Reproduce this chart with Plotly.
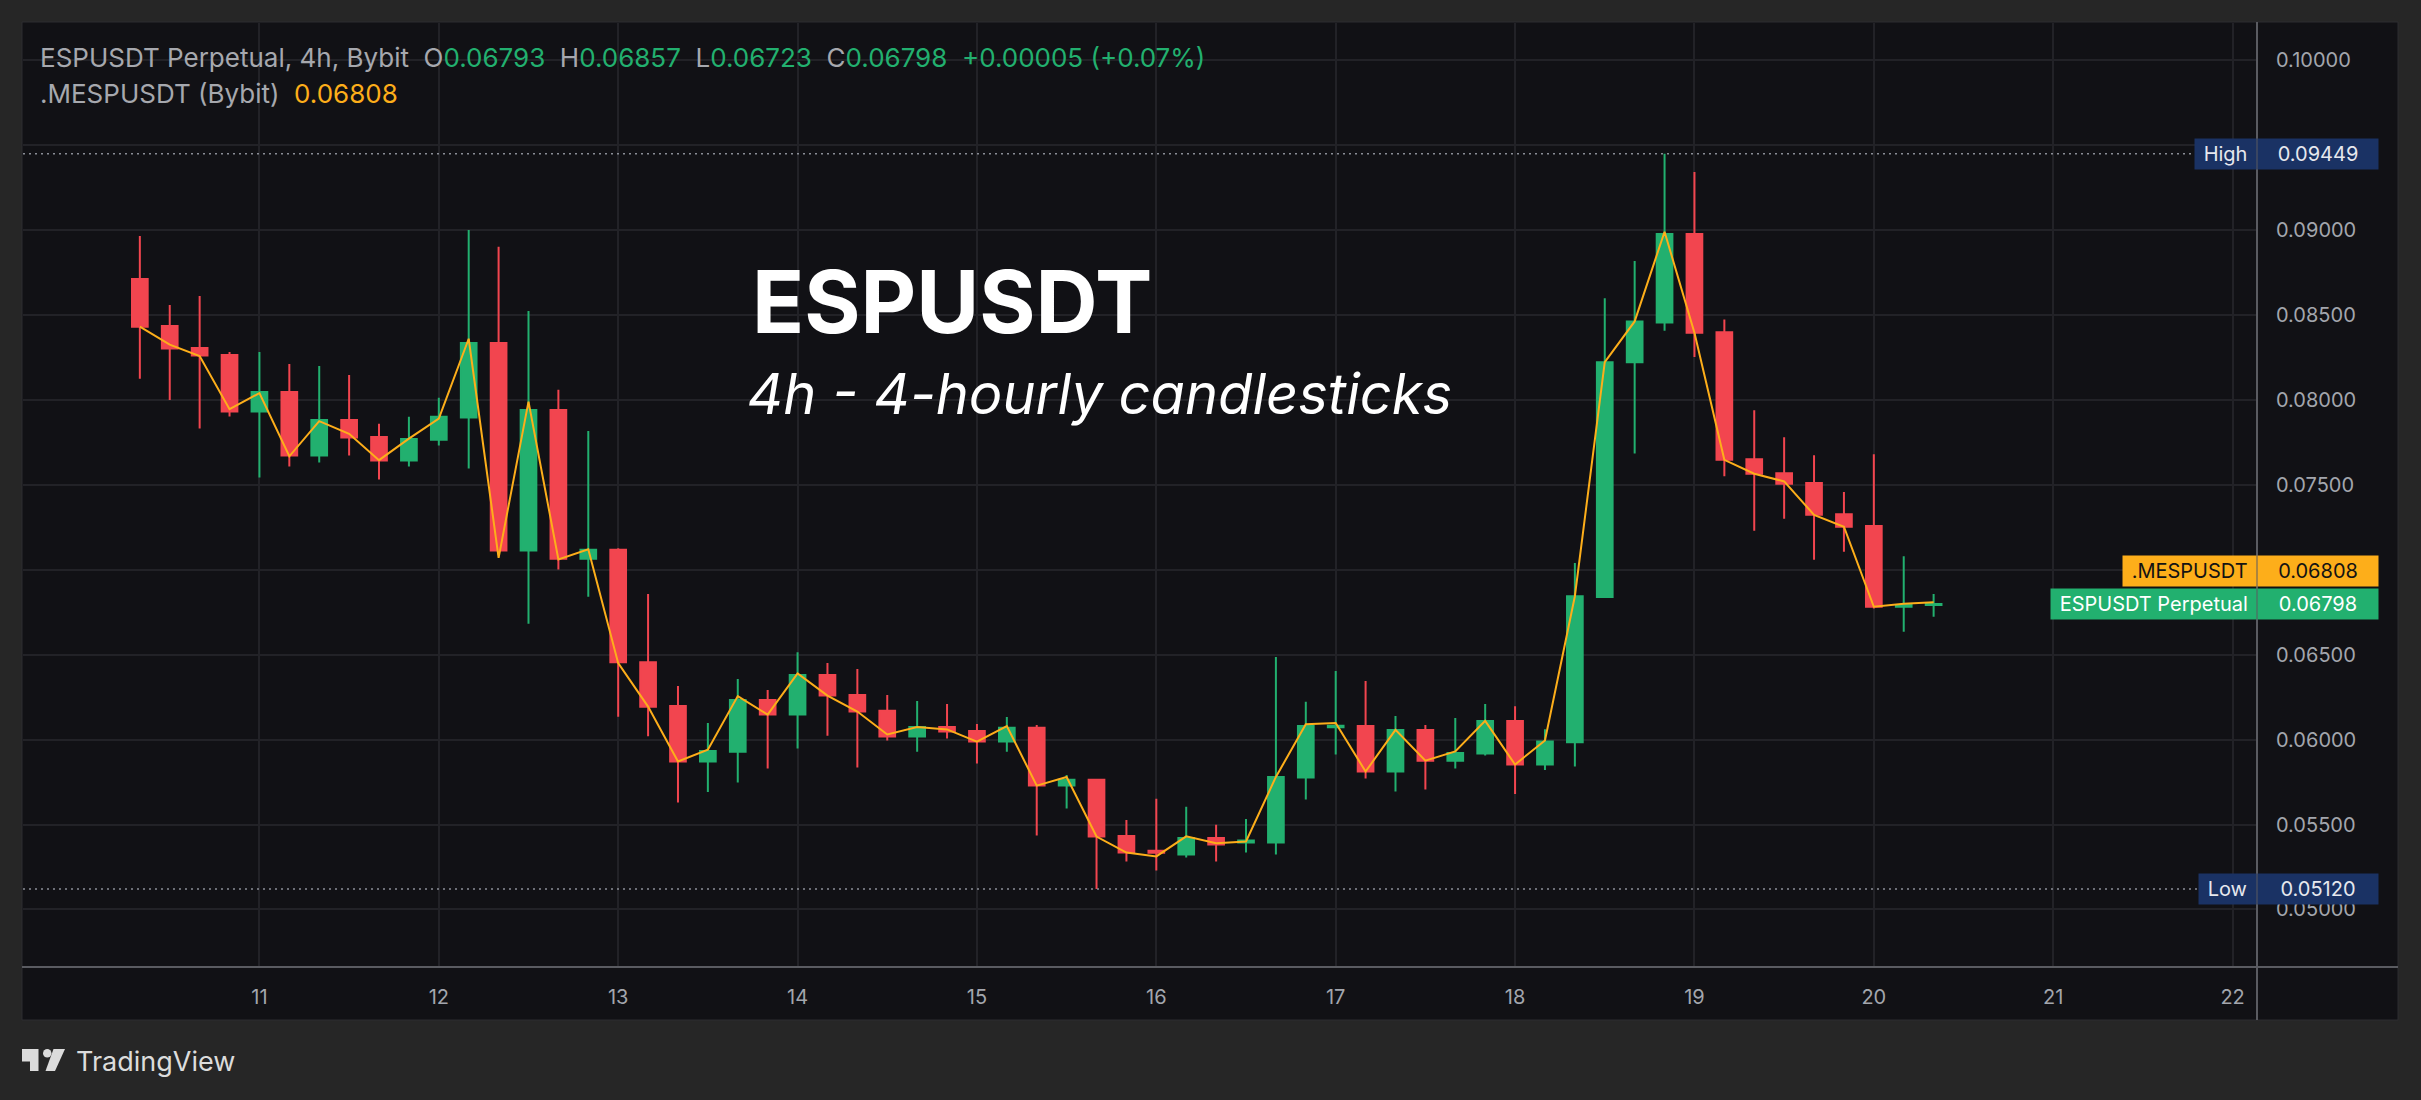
import pandas as pd
import plotly.graph_objects as go

# 4h candles, ESPUSDT perpetual (Bybit)
times = pd.date_range("2026-02-10 08:00", periods=61, freq="4h")

open_ = [0.08712, 0.08435, 0.08306, 0.08265, 0.07931, 0.08047, 0.07672, 0.07882, 0.07782, 0.07643,
         0.07766, 0.07896, 0.08335, 0.07113, 0.07941, 0.07064, 0.07117, 0.06455, 0.06198, 0.05871,
         0.05929, 0.06233, 0.06147, 0.06380, 0.06263, 0.06169, 0.06018, 0.06074, 0.06051, 0.05988,
         0.06069, 0.05729, 0.05763, 0.05433, 0.05345, 0.05323, 0.05421, 0.05394, 0.05394, 0.05776,
         0.06072, 0.06080, 0.05812, 0.06057, 0.05876, 0.05918, 0.06110, 0.05853, 0.05984, 0.06840,
         0.08222, 0.08455, 0.08976, 0.08398, 0.07651, 0.07568, 0.07510, 0.07327, 0.07257, 0.06782,
         0.06793]
high = [0.08965, 0.08559, 0.08612, 0.08282, 0.08282, 0.08212, 0.08200, 0.08147, 0.07859, 0.07900,
        0.08012, 0.09000, 0.08901, 0.08523, 0.08059, 0.07817, 0.07127, 0.06857, 0.06316, 0.06098,
        0.06357, 0.06292, 0.06514, 0.06451, 0.06416, 0.06263, 0.06227, 0.06210, 0.06092, 0.06133,
        0.06086, 0.05792, 0.05765, 0.05527, 0.05651, 0.05604, 0.05498, 0.05533, 0.06486, 0.06222,
        0.06404, 0.06345, 0.06139, 0.06086, 0.06127, 0.06210, 0.06196, 0.06061, 0.07040, 0.08599,
        0.08818, 0.09449, 0.09341, 0.08474, 0.07939, 0.07780, 0.07674, 0.07457, 0.07680, 0.07080,
        0.06857]
low = [0.08125, 0.08000, 0.07831, 0.07902, 0.07543, 0.07608, 0.07631, 0.07672, 0.07531, 0.07608,
       0.07731, 0.07596, 0.07088, 0.06682, 0.07002, 0.06841, 0.06135, 0.06019, 0.05629, 0.05692,
       0.05747, 0.05829, 0.05947, 0.06023, 0.05835, 0.05994, 0.05929, 0.06006, 0.05859, 0.05929,
       0.05435, 0.05594, 0.05120, 0.05282, 0.05229, 0.05306, 0.05282, 0.05335, 0.05323, 0.05647,
       0.05912, 0.05771, 0.05694, 0.05706, 0.05829, 0.05906, 0.05680, 0.05821, 0.05841, 0.06835,
       0.07684, 0.08407, 0.08253, 0.07551, 0.07229, 0.07300, 0.07059, 0.07106, 0.06772, 0.06635,
       0.06723]
close = [0.08431, 0.08302, 0.08261, 0.07931, 0.08047, 0.07672, 0.07882, 0.07778, 0.07643, 0.07770,
         0.07900, 0.08335, 0.07113, 0.07941, 0.07064, 0.07117, 0.06455, 0.06194, 0.05871, 0.05933,
         0.06233, 0.06147, 0.06380, 0.06259, 0.06165, 0.06018, 0.06074, 0.06047, 0.05988, 0.06069,
         0.05729, 0.05763, 0.05429, 0.05335, 0.05333, 0.05421, 0.05382, 0.05406, 0.05780, 0.06080,
         0.06082, 0.05812, 0.06057, 0.05876, 0.05921, 0.06110, 0.05853, 0.05989, 0.06844, 0.08222,
         0.08462, 0.08976, 0.08395, 0.07647, 0.07565, 0.07506, 0.07323, 0.07253, 0.06782, 0.06793,
         0.06798]
# .MESPUSDT mark price
mark = [0.08431, 0.08325, 0.08258, 0.07945, 0.08040, 0.07668, 0.07875, 0.07800, 0.07645, 0.07772,
        0.07890, 0.08360, 0.07070, 0.07990, 0.07060, 0.07120, 0.06450, 0.06194, 0.05871, 0.05940,
        0.06256, 0.06147, 0.06390, 0.06259, 0.06165, 0.06030, 0.06074, 0.06060, 0.05988, 0.06080,
        0.05729, 0.05780, 0.05429, 0.05335, 0.05312, 0.05430, 0.05390, 0.05400, 0.05780, 0.06090,
        0.06098, 0.05812, 0.06057, 0.05876, 0.05930, 0.06110, 0.05853, 0.05995, 0.06844, 0.08222,
        0.08462, 0.08990, 0.08395, 0.07647, 0.07565, 0.07520, 0.07323, 0.07253, 0.06782, 0.06800,
        0.06808]

day_ticks = pd.date_range("2026-02-11", "2026-02-22", freq="D")
day_labels = ["11", "12", "13", "14", "15", "16", "17", "18", "19", "20", "21", "22"]

price_ticks = [0.050, 0.055, 0.060, 0.065, 0.070, 0.075, 0.080, 0.085, 0.090, 0.095, 0.100]
# 0.07000 and 0.09500 sit under the price badges and are not shown
price_labels = ["0.05000", "0.05500", "0.06000", "0.06500", "", "0.07500", "0.08000",
                "0.08500", "0.09000", "", "0.10000"]

high_val, low_val = max(high), min(low)
last_close, last_mark = close[-1], mark[-1]

GREEN = "#22b06f"
RED = "#f2454f"
ORANGE = "#fdae1a"
BG = "#111115"
GRID = "#222227"
FONT = "Inter"

# pixel geometry of the plot area
W, H = 2421, 1100
PL, PR, PT, PB = 23, 2257, 23, 967


def xp(px):
    return (px - PL) / (PR - PL)


def yp(py):
    return (PB - py) / (PB - PT)


fig = go.Figure()

fig.add_trace(go.Scatter(x=times, y=mark, mode="lines",
                         line=dict(color=ORANGE, width=2), hoverinfo="skip"))

fig.add_trace(go.Candlestick(
    x=times, open=open_, high=high, low=low, close=close,
    increasing=dict(line=dict(color=GREEN, width=2), fillcolor=GREEN),
    decreasing=dict(line=dict(color=RED, width=2), fillcolor=RED),
    whiskerwidth=0,
))

shapes = [
    # chart frame
    dict(type="rect", xref="paper", yref="paper", x0=xp(22), x1=xp(2398), y0=yp(1020), y1=yp(22),
         fillcolor=BG, line=dict(color="#2d2d30", width=1), layer="below"),
    # high / low dotted lines
    dict(type="line", xref="paper", yref="y", x0=0, x1=1, y0=high_val, y1=high_val,
         line=dict(color="#8a8d96", width=1.5, dash="2px,4px")),
    dict(type="line", xref="paper", yref="y", x0=0, x1=1, y0=low_val, y1=low_val,
         line=dict(color="#8a8d96", width=1.5, dash="2px,4px")),
    # axis separators
    dict(type="line", xref="paper", yref="paper", x0=1, x1=1, y0=yp(1020), y1=yp(22),
         line=dict(color="#5a5b61", width=2)),
    dict(type="line", xref="paper", yref="paper", x0=xp(22), x1=xp(2398), y0=0, y1=0,
         line=dict(color="#5a5b61", width=2)),
    # TradingView logo
    dict(type="path", xref="paper", yref="paper", fillcolor="#dcdcdc", line=dict(width=0),
         path=(f"M {xp(22)},{yp(1049)} L {xp(38.5)},{yp(1049)} L {xp(38.5)},{yp(1071)} "
               f"L {xp(30)},{yp(1071)} L {xp(30)},{yp(1061.5)} L {xp(22)},{yp(1061.5)} Z")),
    dict(type="circle", xref="paper", yref="paper", fillcolor="#dcdcdc", line=dict(width=0),
         x0=xp(43), x1=xp(51.5), y0=yp(1057.5), y1=yp(1049)),
    dict(type="path", xref="paper", yref="paper", fillcolor="#dcdcdc", line=dict(width=0),
         path=(f"M {xp(53.5)},{yp(1049)} L {xp(65)},{yp(1049)} L {xp(55)},{yp(1071)} "
               f"L {xp(45.5)},{yp(1071)} Z")),
]

grey = "#a6a8ae"
sp = "\u00a0\u00a0"
line1 = (f"<span style='color:{grey}'>ESPUSDT Perpetual, 4h, Bybit{sp}O</span>"
         f"<span style='color:{GREEN}'>{open_[-1]:.5f}</span>"
         f"<span style='color:{grey}'>{sp}H</span><span style='color:{GREEN}'>{high[-1]:.5f}</span>"
         f"<span style='color:{grey}'>{sp}L</span><span style='color:{GREEN}'>{low[-1]:.5f}</span>"
         f"<span style='color:{grey}'>{sp}C</span><span style='color:{GREEN}'>{close[-1]:.5f}</span>"
         f"<span style='color:{GREEN}'>{sp}+{close[-1] - open_[-1]:.5f} "
         f"(+{(close[-1] - open_[-1]) / open_[-1] * 100:.2f}%)</span>")
line2 = (f"<span style='color:{grey}'>.MESPUSDT (Bybit){sp}</span>"
         f"<span style='color:{ORANGE}'>{last_mark:.5f}</span>")

annotations = [
    dict(text="<b>ESPUSDT</b>", xref="paper", yref="paper", x=xp(750), y=yp(302),
         xanchor="left", yanchor="middle", showarrow=False,
         font=dict(family=FONT, size=86, color="#ffffff")),
    dict(text="<i>4h - 4-hourly candlesticks</i>", xref="paper", yref="paper", x=xp(745), y=yp(394),
         xanchor="left", yanchor="middle", showarrow=False,
         font=dict(family=FONT, size=56, color="#ffffff")),
    dict(text=line1, xref="paper", yref="paper", x=xp(38), y=yp(57), xanchor="left",
         yanchor="middle", showarrow=False, font=dict(family=FONT, size=26)),
    dict(text=line2, xref="paper", yref="paper", x=xp(38), y=yp(94), xanchor="left",
         yanchor="middle", showarrow=False, font=dict(family=FONT, size=26)),
    dict(text="TradingView", xref="paper", yref="paper", x=xp(74), y=yp(1061), xanchor="left",
         yanchor="middle", showarrow=False, font=dict(family=FONT, size=27, color="#dcdcdc")),
]


def badge(label, value, bg, fg, yshift=0):
    common = dict(xref="paper", yref="y", y=value, yanchor="middle", showarrow=False,
                  bgcolor=bg, borderpad=3, yshift=yshift,
                  font=dict(family=FONT, size=20, color=fg))
    return [
        dict(text=f"\u00a0{label}\u00a0", x=1, xanchor="right", **common),
        dict(text=f"{value:.5f}", x=1, xanchor="left", width=114, align="center", **common),
    ]


annotations += badge("High", high_val, "#1a3264", "#e6e8ee")
annotations += badge("Low", low_val, "#1a3264", "#e6e8ee")
annotations += badge(".MESPUSDT", last_mark, ORANGE, "#131313", yshift=31)
annotations += badge("ESPUSDT Perpetual", last_close, GREEN, "#ffffff")

fig.update_layout(
    width=W, height=H,
    margin=dict(l=PL, r=W - PR, t=PT, b=H - PB, pad=0),
    paper_bgcolor="#262626", plot_bgcolor=BG,
    showlegend=False, boxgap=0.25,
    shapes=shapes, annotations=annotations,
    xaxis=dict(type="date", range=["2026-02-09 16:22", "2026-02-22 03:16"],
               tickmode="array", tickvals=day_ticks, ticktext=day_labels,
               showgrid=True, gridcolor=GRID, gridwidth=1.5, showline=False, zeroline=False,
               rangeslider=dict(visible=False), ticks="", ticklabelstandoff=16,
               tickfont=dict(family=FONT, size=20, color="#a3a6ad")),
    yaxis=dict(side="right", range=[0.04661, 0.10219],
               tickmode="array", tickvals=price_ticks, ticktext=price_labels,
               showgrid=True, gridcolor=GRID, gridwidth=1.5, showline=False, zeroline=False,
               ticks="", ticklabelstandoff=18,
               tickfont=dict(family=FONT, size=20, color="#a3a6ad")),
)

fig.write_html("out.html", config=dict(displayModeBar=False),
               post_script="document.body.style.margin='0';document.body.style.overflow='hidden';")
